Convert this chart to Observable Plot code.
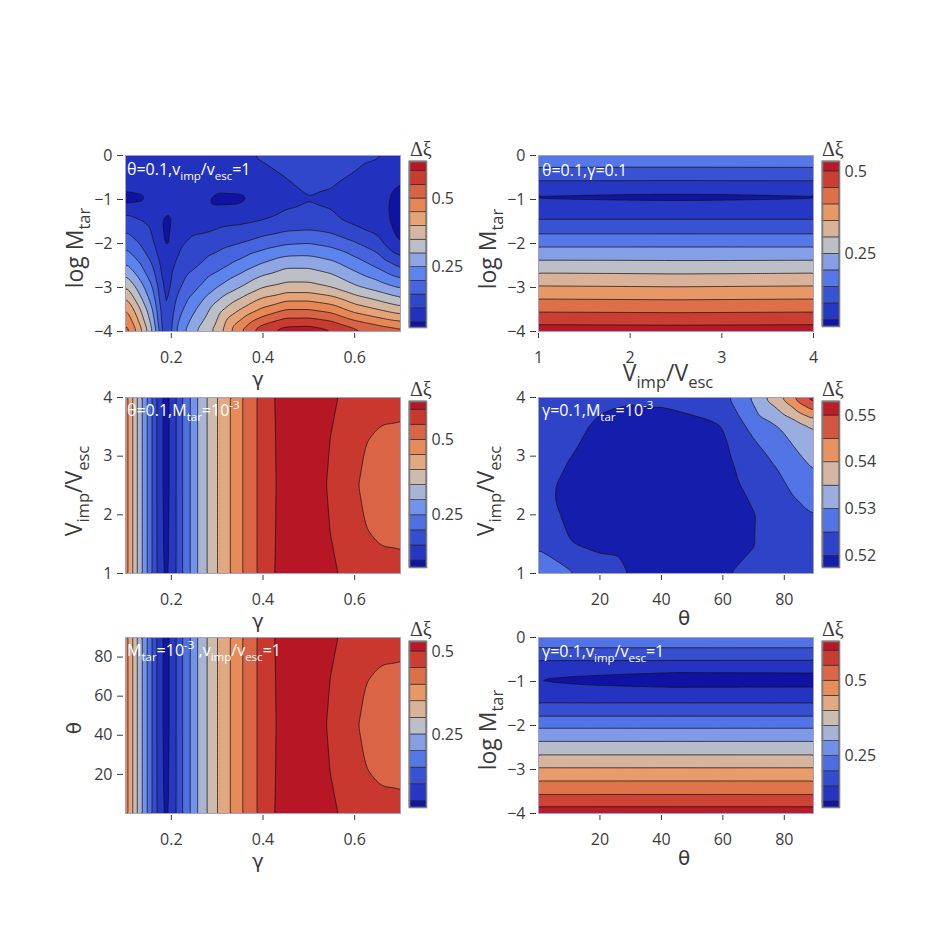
<!DOCTYPE html>
<html>
<head>
<meta charset="utf-8">
<script src="https://cdn.jsdelivr.net/npm/d3@7"></script>
<script src="https://cdn.jsdelivr.net/npm/@observablehq/plot@0.6"></script>
<style>
  body { margin: 0; background: #fff; }
  #fig { position: relative; width: 946px; height: 946px; background: #fff; overflow: hidden; }
  #fig svg { position: absolute; overflow: visible; }
</style>
</head>
<body>
<div id="fig"></div>
<script>
// Blue → grey → red colour ramp used for every Δξ field
const rampColors = ["#0a0a9c", "#2536c2", "#3349cc", "#4a68e0", "#6087ee", "#97abe3", "#c2c2c2",
                    "#d8b49a", "#e9a071", "#e6824f", "#d65c43", "#c6322c", "#b10a22"];

// ---- Panel A: γ vs log M_tar (θ=0.1, v_imp/v_esc=1)
const gammaA = [0.1, 0.13, 0.16, 0.175, 0.19, 0.205, 0.22, 0.26, 0.3, 0.35, 0.4, 0.45, 0.5, 0.55, 0.6, 0.65, 0.7];
const logMA = [0, -0.5, -1, -1.5, -2, -2.5, -3, -3.5, -4];
const xiA = [
  [0.085, 0.085, 0.085, 0.085, 0.085, 0.085, 0.085, 0.086, 0.088, 0.093, 0.105, 0.118, 0.128, 0.125, 0.115, 0.105, 0.088],
  [0.08, 0.08, 0.08, 0.08, 0.08, 0.08, 0.079, 0.078, 0.078, 0.08, 0.088, 0.1, 0.112, 0.108, 0.095, 0.075, 0.055],
  [0.034, 0.04, 0.058, 0.068, 0.072, 0.072, 0.07, 0.065, 0.038, 0.04, 0.07, 0.088, 0.098, 0.092, 0.075, 0.065, 0.036],
  [0.125, 0.105, 0.085, 0.06, 0.034, 0.058, 0.075, 0.08, 0.085, 0.092, 0.102, 0.115, 0.12, 0.11, 0.09, 0.07, 0.034],
  [0.185, 0.15, 0.105, 0.075, 0.036, 0.07, 0.095, 0.115, 0.13, 0.15, 0.175, 0.195, 0.2, 0.185, 0.155, 0.12, 0.047],
  [0.26, 0.21, 0.15, 0.1, 0.068, 0.1, 0.12, 0.15, 0.18, 0.22, 0.26, 0.29, 0.29, 0.27, 0.23, 0.19, 0.14],
  [0.36, 0.28, 0.2, 0.13, 0.076, 0.12, 0.15, 0.2, 0.25, 0.3, 0.35, 0.37, 0.37, 0.35, 0.31, 0.28, 0.245],
  [0.46, 0.36, 0.25, 0.16, 0.08, 0.15, 0.19, 0.26, 0.33, 0.4, 0.46, 0.5, 0.5, 0.48, 0.43, 0.4, 0.37],
  [0.535, 0.43, 0.3, 0.19, 0.083, 0.18, 0.23, 0.31, 0.37, 0.5, 0.59, 0.628, 0.632, 0.612, 0.57, 0.54, 0.52]
];
const levelsA = [0.05, 0.1, 0.15, 0.2, 0.25, 0.3, 0.35, 0.4, 0.45, 0.5, 0.55, 0.6];
const barA = [0.03, 0.635];

// ---- Panel B: v_imp/v_esc vs log M_tar (θ=0.1, γ=0.1)
const speedB = [1, 2.5, 4];
const logMB = [0, -0.3, -0.6, -0.85, -0.95, -1.05, -1.3, -1.6, -1.9, -2.2, -2.5, -2.8, -3.1, -3.4, -3.7, -3.9, -4];
const xiB = [
  [0.19, 0.19, 0.19], [0.146, 0.145, 0.146], [0.096, 0.095, 0.096], [0.054, 0.052, 0.054],
  [0.044, 0.039, 0.044], [0.055, 0.053, 0.055], [0.08, 0.08, 0.08], [0.12, 0.12, 0.12],
  [0.17, 0.17, 0.17], [0.22, 0.22, 0.22], [0.27, 0.268, 0.27], [0.322, 0.318, 0.322],
  [0.373, 0.37, 0.373], [0.423, 0.42, 0.423], [0.474, 0.472, 0.474], [0.51, 0.508, 0.51],
  [0.527, 0.525, 0.527]
];
const levelsB = [0.05, 0.1, 0.15, 0.2, 0.25, 0.3, 0.35, 0.4, 0.45, 0.5];
const barB = [0.03, 0.53];

// ---- Panel C: γ vs v_imp/v_esc (θ=0.1, M_tar=10^-3)
const gammaC = [0.1, 0.12, 0.14, 0.16, 0.18, 0.19, 0.2, 0.22, 0.24, 0.26, 0.28, 0.3, 0.33, 0.36, 0.39, 0.42, 0.48, 0.54, 0.58, 0.62, 0.66, 0.7];
const speedC = [1, 1.5, 2.5, 3.5, 4];
const xiC = [
  [0.49, 0.375, 0.285, 0.19, 0.1, 0.09, 0.11, 0.188, 0.245, 0.31, 0.354, 0.4, 0.452, 0.508, 0.555, 0.598, 0.627, 0.612, 0.592, 0.572, 0.562, 0.557],
  [0.49, 0.375, 0.285, 0.19, 0.097, 0.086, 0.109, 0.188, 0.245, 0.31, 0.354, 0.4, 0.452, 0.508, 0.555, 0.597, 0.626, 0.606, 0.585, 0.555, 0.549, 0.548],
  [0.49, 0.375, 0.285, 0.19, 0.095, 0.082, 0.108, 0.188, 0.245, 0.31, 0.354, 0.4, 0.452, 0.508, 0.555, 0.596, 0.625, 0.6, 0.57, 0.542, 0.533, 0.53],
  [0.49, 0.375, 0.285, 0.19, 0.095, 0.082, 0.108, 0.188, 0.245, 0.31, 0.354, 0.4, 0.452, 0.508, 0.555, 0.597, 0.626, 0.606, 0.585, 0.555, 0.549, 0.548],
  [0.49, 0.375, 0.285, 0.19, 0.095, 0.083, 0.108, 0.188, 0.245, 0.31, 0.354, 0.4, 0.452, 0.508, 0.555, 0.598, 0.627, 0.612, 0.592, 0.572, 0.562, 0.557]
];
const levelsC = [0.1, 0.15, 0.2, 0.25, 0.3, 0.35, 0.4, 0.45, 0.5, 0.55, 0.6];
const barC = [0.077, 0.627];

// ---- Panel D: θ vs v_imp/v_esc (γ=0.1, M_tar=10^-3)
const thetaD = [0, 10, 20, 30, 40, 50, 60, 65, 70, 75, 80, 85, 89.5];
const speedD = [1, 1.5, 2, 2.5, 3, 3.5, 4];
const xiD = [
  [0.5275, 0.5258, 0.5222, 0.5198, 0.519, 0.519, 0.5197, 0.5203, 0.5207, 0.5212, 0.5218, 0.5223, 0.5228],
  [0.5244, 0.5202, 0.519, 0.5186, 0.5184, 0.5184, 0.5187, 0.5193, 0.5199, 0.5208, 0.5218, 0.5228, 0.5236],
  [0.5225, 0.519, 0.5185, 0.5182, 0.518, 0.518, 0.5184, 0.519, 0.5198, 0.5212, 0.5225, 0.5237, 0.5249],
  [0.5212, 0.5191, 0.5185, 0.5182, 0.518, 0.518, 0.5185, 0.5198, 0.521, 0.5228, 0.5247, 0.5266, 0.5285],
  [0.5208, 0.5201, 0.519, 0.5187, 0.5187, 0.5189, 0.5195, 0.5205, 0.5228, 0.5252, 0.5268, 0.5298, 0.5315],
  [0.5209, 0.5205, 0.5197, 0.5194, 0.5194, 0.5196, 0.5199, 0.5235, 0.5265, 0.5285, 0.531, 0.5332, 0.5356],
  [0.521, 0.5208, 0.5204, 0.5202, 0.5203, 0.5206, 0.5235, 0.5272, 0.531, 0.5362, 0.5412, 0.548, 0.553]
];
const levelsD = [0.52, 0.525, 0.53, 0.535, 0.54, 0.545, 0.55];
const barD = [0.5175, 0.553];

// ---- Panel E: γ vs θ (M_tar=10^-3, v_imp/v_esc=1)
const gammaE = gammaC;
const thetaE = [0, 15, 45, 75, 90];
const xiE = [
  [0.44, 0.325, 0.235, 0.14, 0.05, 0.04, 0.06, 0.138, 0.195, 0.26, 0.304, 0.35, 0.402, 0.458, 0.505, 0.548, 0.577, 0.562, 0.542, 0.522, 0.512, 0.507],
  [0.44, 0.325, 0.235, 0.14, 0.047, 0.036, 0.059, 0.138, 0.195, 0.26, 0.304, 0.35, 0.402, 0.458, 0.505, 0.547, 0.576, 0.556, 0.535, 0.505, 0.499, 0.498],
  [0.44, 0.325, 0.235, 0.14, 0.045, 0.032, 0.058, 0.138, 0.195, 0.26, 0.304, 0.35, 0.402, 0.458, 0.505, 0.546, 0.575, 0.55, 0.52, 0.492, 0.483, 0.48],
  [0.44, 0.325, 0.235, 0.14, 0.045, 0.032, 0.058, 0.138, 0.195, 0.26, 0.304, 0.35, 0.402, 0.458, 0.505, 0.547, 0.576, 0.556, 0.535, 0.505, 0.499, 0.498],
  [0.44, 0.325, 0.235, 0.14, 0.045, 0.033, 0.058, 0.138, 0.195, 0.26, 0.304, 0.35, 0.402, 0.458, 0.505, 0.548, 0.577, 0.562, 0.542, 0.522, 0.512, 0.507]
];
const levelsE = [0.05, 0.1, 0.15, 0.2, 0.25, 0.3, 0.35, 0.4, 0.45, 0.5, 0.55];
const shadeE = [0.027, 0.577];
const barE = [0.03, 0.53];
const barLevelsE = [0.05, 0.1, 0.15, 0.2, 0.25, 0.3, 0.35, 0.4, 0.45, 0.5];

// ---- Panel F: θ vs log M_tar (γ=0.1, v_imp/v_esc=1)
const thetaF = [0, 45, 89.5];
const logMF = [0, -0.25, -0.52, -0.8, -0.97, -1.13, -1.3, -1.49, -1.79, -2.06, -2.36, -2.67, -2.96, -3.26, -3.57, -3.85, -4];
const xiF = [
  [0.225, 0.225, 0.225], [0.2, 0.2, 0.2], [0.15, 0.15, 0.15], [0.108, 0.097, 0.098],
  [0.097, 0.082, 0.085], [0.108, 0.099, 0.099], [0.125, 0.122, 0.122], [0.15, 0.15, 0.15],
  [0.2, 0.2, 0.2], [0.25, 0.25, 0.25], [0.3, 0.3, 0.3], [0.35, 0.35, 0.35],
  [0.4, 0.4, 0.4], [0.45, 0.45, 0.45], [0.5, 0.5, 0.5], [0.55, 0.55, 0.55], [0.58, 0.58, 0.58]
];
const levelsF = [0.1, 0.15, 0.2, 0.25, 0.3, 0.35, 0.4, 0.45, 0.5, 0.55, 0.6];
const barF = [0.08, 0.63];
const shadeF = [0.085, 0.585];

const FONT = "'Open Sans', 'Noto Sans', sans-serif";
const GREEK = "'DejaVu Sans', 'Open Sans', sans-serif";
const INK = "#3b3b3b";
const ramp = d3.piecewise(d3.interpolateRgb, rampColors);
const fig = document.getElementById("fig");
const fmt = d => (d < 0 ? "\u2212" : "") + String(Math.abs(d));

// Flatten a value grid into {x, y, v} samples
function samples(xs, ys, rows) {
  const out = [];
  rows.forEach((row, i) => row.forEach((v, j) => out.push({x: xs[j], y: ys[i], v})));
  return out;
}

// Band colours: each band [a, b] takes the ramp colour at its midpoint within [lo, hi]
function bandColors(edges, lo, hi) {
  return d3.pairs(edges, (a, b) => ramp(Math.max(0, Math.min(1, ((a + b) / 2 - lo) / (hi - lo)))));
}

function drawPanel(p) {
  const W = 275, H = 176, ml = 50, mr = 6, mt = 6, mb = 40;
  const shade = p.shade || p.bar;
  const edges = [shade[0], ...p.levels.filter(t => t > shade[0] && t < shade[1]), shade[1]];
  const keys = edges.slice(0, -1);
  const colors = bandColors(edges, shade[0], shade[1]);
  const svg = Plot.plot({
    width: W + ml + mr, height: H + mt + mb,
    marginLeft: ml, marginRight: mr, marginTop: mt, marginBottom: mb,
    style: {fontFamily: FONT, fontSize: "16px", color: INK, background: "none", overflow: "visible"},
    x: {domain: p.xDomain},
    y: {domain: p.yDomain},
    color: {type: "ordinal", domain: keys, range: colors},
    marks: [
      Plot.frame({fill: colors[0]}),
      Plot.contour(p.data, {
        x: "x", y: "y", fill: "v", thresholds: keys,
        interpolate: "barycentric", blur: 1,
        x1: p.xDomain[0], x2: p.xDomain[1], y1: p.yDomain[0], y2: p.yDomain[1],
        stroke: "#141414", strokeWidth: 0.75, clip: true
      }),
      Plot.frame({stroke: "#a59fc6", strokeWidth: 1}),
      Plot.axisX({ticks: p.xTicks, tickFormat: fmt, tickSize: 5, tickPadding: 13, dy: 2, label: null}),
      Plot.axisY({ticks: p.yTicks, tickFormat: fmt, tickSize: 6, tickPadding: 5, dx: -2, label: null})
    ]
  });
  svg.style.left = (p.left - ml) + "px";
  svg.style.top = (p.top - mt) + "px";
  fig.append(svg);

  // colour bar
  const cbEdges = [p.bar[0], ...(p.barLevels || p.levels).filter(t => t > p.bar[0] && t < p.bar[1]), p.bar[1]];
  const bands = d3.pairs(cbEdges, (a, b) => ({a, b}));
  const cbColors = bandColors(cbEdges, p.bar[0], p.bar[1]);
  const cml = 2, cmr = 50, cmt = 2, cmb = 2, CW = 17;
  const cb = Plot.plot({
    width: CW + cml + cmr, height: p.cbH + cmt + cmb,
    marginLeft: cml, marginRight: cmr, marginTop: cmt, marginBottom: cmb,
    style: {fontFamily: FONT, fontSize: "16px", color: INK, background: "none", overflow: "visible"},
    y: {domain: p.bar},
    color: {type: "ordinal", domain: cbEdges.slice(0, -1), range: cbColors},
    marks: [
      Plot.rect(bands, {y1: "a", y2: "b", fill: "a", stroke: "#222", strokeWidth: 0.6}),
      Plot.frame({stroke: "#7d7d7d", strokeWidth: 1.6}),
      Plot.axisY({anchor: "right", ticks: p.cbTicks, tickFormat: fmt, tickSize: 0, tickPadding: 5, label: null})
    ]
  });
  cb.style.left = (p.cbLeft - cml) + "px";
  cb.style.top = (p.cbTop - cmt) + "px";
  fig.append(cb);
}

const panels = [
  {left: 125, top: 155, xDomain: [0.1, 0.7], yDomain: [-4, 0], xTicks: [0.2, 0.4, 0.6], yTicks: [0, -1, -2, -3, -4],
   data: samples(gammaA, logMA, xiA), levels: levelsA, bar: barA,
   cbLeft: 409, cbTop: 161, cbH: 166, cbTicks: [0.25, 0.5]},
  {left: 537.5, top: 155, xDomain: [1, 4], yDomain: [-4, 0], xTicks: [1, 2, 3, 4], yTicks: [0, -1, -2, -3, -4],
   data: samples(speedB, logMB, xiB), levels: levelsB, bar: barB,
   cbLeft: 822, cbTop: 161, cbH: 165, cbTicks: [0.25, 0.5]},
  {left: 125, top: 397, xDomain: [0.1, 0.7], yDomain: [1, 4], xTicks: [0.2, 0.4, 0.6], yTicks: [1, 2, 3, 4],
   data: samples(gammaC, speedC, xiC), levels: levelsC, bar: barC,
   cbLeft: 409, cbTop: 401, cbH: 166, cbTicks: [0.25, 0.5]},
  {left: 537.5, top: 397, xDomain: [0, 89.5], yDomain: [1, 4], xTicks: [20, 40, 60, 80], yTicks: [1, 2, 3, 4],
   data: samples(thetaD, speedD, xiD), levels: levelsD, bar: barD,
   cbLeft: 822, cbTop: 401, cbH: 166, cbTicks: [0.52, 0.53, 0.54, 0.55]},
  {left: 125, top: 637, xDomain: [0.1, 0.7], yDomain: [0, 90], xTicks: [0.2, 0.4, 0.6], yTicks: [20, 40, 60, 80],
   data: samples(gammaE, thetaE, xiE), levels: levelsE, shade: shadeE, bar: barE, barLevels: barLevelsE,
   cbLeft: 409, cbTop: 641, cbH: 166, cbTicks: [0.25, 0.5]},
  {left: 537.5, top: 637, xDomain: [0, 89.5], yDomain: [-4, 0], xTicks: [20, 40, 60, 80], yTicks: [0, -1, -2, -3, -4],
   data: samples(thetaF, logMF, xiF), levels: levelsF, bar: barF, shade: shadeF,
   cbLeft: 822, cbTop: 641, cbH: 166, cbTicks: [0.25, 0.5]}
];
panels.forEach(drawPanel);

// ---- Text layer: axis titles, in-panel notes, colour-bar titles
const ov = d3.select(fig).append("svg")
  .attr("width", 946).attr("height", 946)
  .style("left", "0px").style("top", "0px").style("pointer-events", "none");

function rich(str, x, y, {size = 23, fill = INK, anchor = "start", rotate = false, family = FONT} = {}) {
  const t = ov.append("text").attr("x", x).attr("y", y)
    .attr("font-family", family).attr("font-size", size).attr("fill", fill)
    .attr("text-anchor", anchor);
  if (rotate) t.attr("transform", `rotate(-90,${x},${y})`);
  const re = /([_^])\{([^}]*)\}/g;
  const parts = [];
  let last = 0, m;
  while ((m = re.exec(str))) {
    if (m.index > last) parts.push({t: str.slice(last, m.index), s: 0});
    parts.push({t: m[2], s: m[1] === "_" ? 1 : -1});
    last = re.lastIndex;
  }
  if (last < str.length) parts.push({t: str.slice(last), s: 0});
  let cur = 0;
  for (const p of parts) {
    const off = p.s === 1 ? 0.3 * size : p.s === -1 ? -0.42 * size : 0;
    t.append("tspan").attr("dy", off - cur).attr("font-size", p.s ? size * 0.72 : size).text(p.t);
    cur = off;
  }
}

// axis titles
const greek = {anchor: "middle", size: 20, family: GREEK};
rich("γ", 258, 386, greek);
rich("V_{imp}/V_{esc}", 668, 381, {anchor: "middle"});
rich("γ", 258, 628, greek);
rich("θ", 684, 625, greek);
rich("γ", 258, 868, greek);
rich("θ", 684, 865, greek);
rich("log M_{tar}", 83, 248, {anchor: "middle", rotate: true});
rich("log M_{tar}", 496, 249, {anchor: "middle", rotate: true});
rich("V_{imp}/V_{esc}", 82, 491, {anchor: "middle", rotate: true});
rich("V_{imp}/V_{esc}", 494, 491, {anchor: "middle", rotate: true});
rich("θ", 81, 728, {anchor: "middle", rotate: true, size: 20, family: GREEK});
rich("log M_{tar}", 496, 730, {anchor: "middle", rotate: true});

// parameter notes inside the panels
const note = {size: 16, fill: "#ffffff"};
rich("θ=0.1,v_{imp}/v_{esc}=1", 127, 175, note);
rich("θ=0.1,γ=0.1", 542, 176, note);
rich("θ=0.1,M_{tar}=10^{-3}", 127, 416, note);
rich("γ=0.1,M_{tar}=10^{-3}", 542, 416, note);
rich("M_{tar}=10^{-3} ,v_{imp}/v_{esc}=1", 127, 656, note);
rich("γ=0.1,v_{imp}/v_{esc}=1", 542, 657, note);

// colour-bar titles
const cbt = {size: 20, family: "'Liberation Serif', 'DejaVu Serif', serif"};
[[410, 156], [822, 156], [410, 396], [822, 396], [410, 636], [822, 636]]
  .forEach(([x, y]) => rich("Δξ", x, y, cbt));
</script>
</body>
</html>
